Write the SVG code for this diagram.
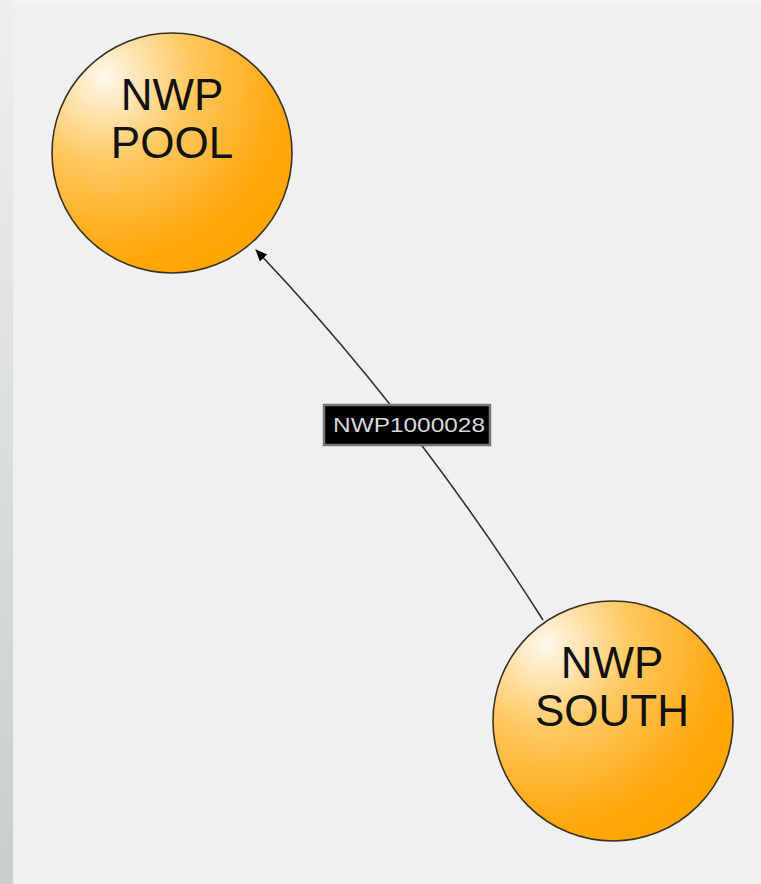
<svg xmlns="http://www.w3.org/2000/svg" width="761" height="884" viewBox="0 0 761 884">
<defs>
<linearGradient id="side" x1="0" y1="0" x2="0" y2="1">
<stop offset="0" stop-color="#eef0f0"/>
<stop offset="1" stop-color="#c9cdcd"/>
</linearGradient>
<radialGradient id="ball" cx="0.22" cy="0.18" r="0.9" fx="0.22" fy="0.18">
<stop offset="0" stop-color="#fff8ec"/>
<stop offset="0.4" stop-color="#ffc860"/>
<stop offset="0.8" stop-color="#ffa912"/>
<stop offset="1" stop-color="#ffa500"/>
</radialGradient>
<marker id="arr" viewBox="0 0 12 12" refX="11" refY="6" markerWidth="12" markerHeight="12" markerUnits="userSpaceOnUse" orient="auto">
<path d="M0,1 L12,6 L0,11 Z" fill="#000"/>
</marker>
<style>
.node circle{fill:url(#ball);stroke:#3a3226;stroke-width:1.6}
.node text{font-family:"Liberation Sans",Arial,sans-serif;font-size:44px;fill:#111;text-anchor:middle}
.edge{fill:none;stroke:#333;stroke-width:1.6}
.lbl rect{fill:#000;stroke:#777;stroke-width:2.5}
.lbl text{font-family:"Liberation Sans",Arial,sans-serif;font-size:20px;fill:#d8d8d8}
</style>
</defs>
<rect x="0" y="0" width="761" height="884" fill="#f4f4f4"/>
<rect x="0" y="0" width="13" height="884" fill="url(#side)"/>
<rect x="13" y="5" width="748" height="879" fill="#f0f0f0"/>
<g id="connectors">
<path class="edge" d="M543,620 Q412,414 256,250" marker-end="url(#arr)"/>
<g class="lbl">
<rect x="324" y="405" width="166" height="40"/>
<text x="333" y="432" textLength="152" lengthAdjust="spacingAndGlyphs">NWP1000028</text>
</g>
</g>
<g id="node-pool" class="node">
<circle cx="172" cy="153" r="120"/>
<text x="172" y="110">NWP</text>
<text x="172" y="158">POOL</text>
</g>
<g id="node-south" class="node">
<circle cx="613" cy="721" r="120"/>
<text x="612" y="678">NWP</text>
<text x="612" y="726">SOUTH</text>
</g>
</svg>
